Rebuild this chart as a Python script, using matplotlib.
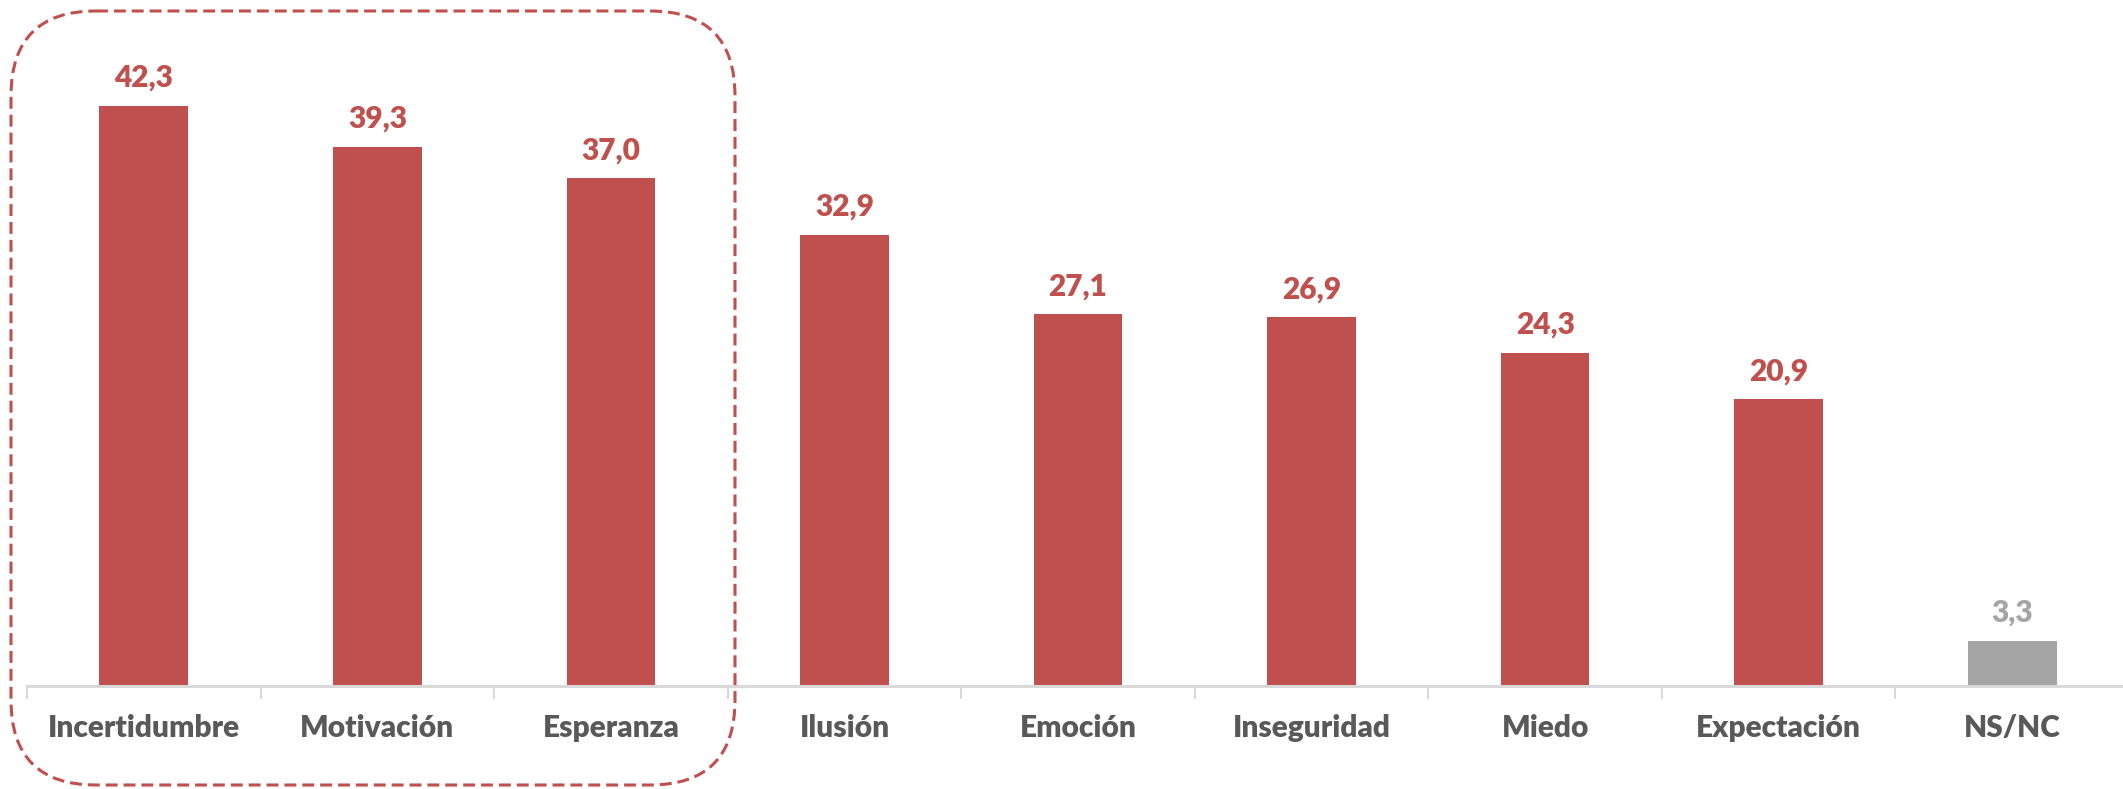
import matplotlib
matplotlib.use("Agg")
from matplotlib import pyplot as plt
from matplotlib.patches import FancyBboxPatch

# Data
categories = ["Incertidumbre", "Motivación", "Esperanza", "Ilusión", "Emoción",
              "Inseguridad", "Miedo", "Expectación", "NS/NC"]
values = [42.3, 39.3, 37.0, 32.9, 27.1, 26.9, 24.3, 20.9, 3.3]
labels = ["42,3", "39,3", "37,0", "32,9", "27,1", "26,9", "24,3", "20,9", "3,3"]

red = "#C0504D"
grey = "#A5A5A5"
colors = [red] * 8 + [grey]

plt.rcParams['font.family'] = ['Lato', 'DejaVu Sans']

W, H, DPI = 2123, 789, 100
fig = plt.figure(figsize=(W / DPI, H / DPI), dpi=DPI)

# main axes, baseline at y=686 px, one category = ~233.6 px
ax = fig.add_axes([27 / W, 1 - 686 / H, 2102 / W, 686 / H])
x = list(range(len(categories)))
ax.bar(x, values, width=0.38, color=colors, zorder=2)
ax.set_xlim(-0.5, len(categories) - 0.5)
ax.set_ylim(0, 50)

# value labels
for xi, v, lab, c in zip(x, values, labels, colors):
    ax.annotate(lab, (xi, v), xytext=(0, 10), textcoords="offset points",
                ha="center", va="bottom", fontsize=21.5, fontweight="heavy", color=c)

# axes styling
for s in ["top", "right", "left"]:
    ax.spines[s].set_visible(False)
ax.spines["bottom"].set_color("#D9D9D9")
ax.spines["bottom"].set_linewidth(2.2)
ax.set_yticks([])
ax.set_xticks(x)
ax.set_xticklabels(categories, fontsize=21.5, fontweight="heavy", color="#595959")
ax.tick_params(axis="x", which="major", length=0, pad=20)
ax.set_xticks([i - 0.5 for i in range(len(categories) + 1)], minor=True)
ax.tick_params(axis="x", which="minor", length=9, width=1.5, color="#D9D9D9")

# dashed rounded box around first three categories (pixel coordinates)
ov = fig.add_axes([0, 0, 1, 1], facecolor="none")
ov.set_xlim(0, W)
ov.set_ylim(H, 0)
ov.axis("off")
box = FancyBboxPatch((11, 11), 724, 774, boxstyle="round,pad=0,rounding_size=85",
                     fill=False, edgecolor=red, linewidth=2.2,
                     linestyle=(0, (3.9, 1.95)))
ov.add_patch(box)

fig.savefig("out.png", dpi=DPI)
